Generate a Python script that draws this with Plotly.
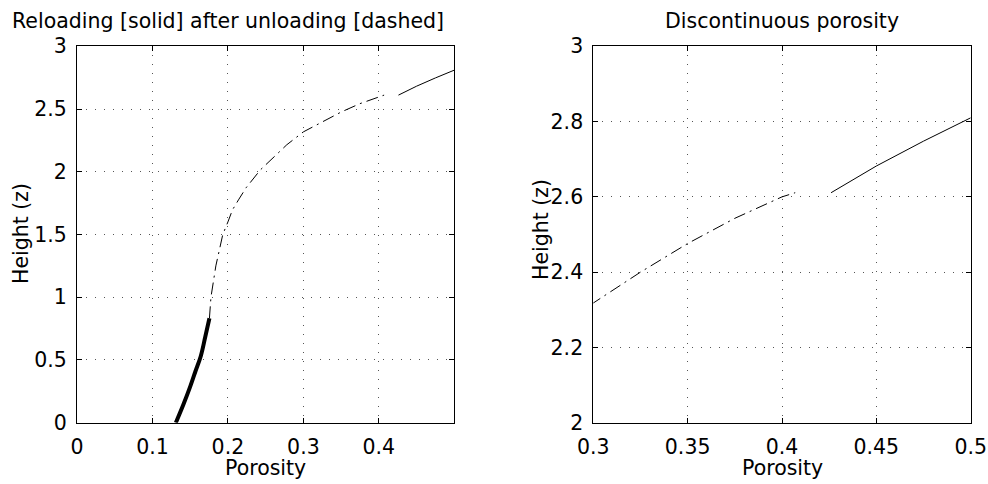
import plotly.graph_objects as go

# Unloading branch (dash-dot), porosity vs height
unload_phi = [0.1755, 0.1775, 0.1840, 0.1932, 0.2000, 0.2060, 0.2140, 0.2240,
              0.2430, 0.2600, 0.2780, 0.3000, 0.3250, 0.3500, 0.3750, 0.4000, 0.4070]
unload_z = [0.832, 1.000, 1.250, 1.500, 1.600, 1.696, 1.776, 1.872,
            2.015, 2.115, 2.215, 2.318, 2.400, 2.476, 2.543, 2.600, 2.611]

# Upper branch above the porosity jump (thin solid)
upper_phi = [0.426, 0.450, 0.475, 0.500]
upper_z = [2.611, 2.682, 2.748, 2.810]

# Reloading branch (thick solid)
reload_phi = [0.131, 0.141, 0.150, 0.157, 0.164, 0.170, 0.1755]
reload_z = [0.000, 0.145, 0.287, 0.410, 0.530, 0.685, 0.832]

# Axis ticks
left_xticks = [0, 0.1, 0.2, 0.3, 0.4]
left_yticks = [0, 0.5, 1, 1.5, 2, 2.5, 3]
right_xticks = [0.3, 0.35, 0.4, 0.45, 0.5]
right_yticks = [2, 2.2, 2.4, 2.6, 2.8, 3]

titles = ["Reloading [solid] after unloading [dashed]", "Discontinuous porosity"]
xlabel = "Porosity"
ylabel = "Height (z)"

W, H = 988, 484
FONT = "DejaVu Sans"
FS = 20.5

fig = go.Figure()

for xa, ya in [("x", "y"), ("x2", "y2")]:
    fig.add_trace(go.Scatter(x=unload_phi, y=unload_z, mode="lines", xaxis=xa, yaxis=ya,
                             line=dict(color="black", width=1, dash="12px,5px,2px,5px"),
                             showlegend=False, hoverinfo="skip"))
    fig.add_trace(go.Scatter(x=upper_phi, y=upper_z, mode="lines", xaxis=xa, yaxis=ya,
                             line=dict(color="black", width=1),
                             showlegend=False, hoverinfo="skip"))
    fig.add_trace(go.Scatter(x=reload_phi, y=reload_z, mode="lines", xaxis=xa, yaxis=ya,
                             line=dict(color="black", width=4, shape="spline"),
                             showlegend=False, hoverinfo="skip"))

ydom = [1 - 422.7 / H, 1 - 46.3 / H]

common = dict(
    showline=True, linecolor="black", linewidth=1, mirror="ticks",
    ticks="inside", ticklen=5, tickcolor="black", tickwidth=1,
    showgrid=True, gridcolor="#555555", gridwidth=1, griddash="1px,8px",
    zeroline=False, automargin=False,
    tickfont=dict(family=FONT, size=FS, color="black"),
)

fig.update_layout(
    width=W, height=H,
    margin=dict(l=0, r=0, t=0, b=0, autoexpand=False),
    paper_bgcolor="white", plot_bgcolor="white",
    showlegend=False,
    xaxis=dict(domain=[77 / W, 454.3 / W], range=[0, 0.5], tickvals=left_xticks,
               ticktext=["0", "0.1", "0.2", "0.3", "0.4"], anchor="y",
               ticklabelstandoff=6, **common),
    yaxis=dict(domain=ydom, range=[0, 3], tickvals=left_yticks,
               ticktext=["0", "0.5", "1", "1.5", "2", "2.5", "3"], anchor="x",
               ticklabelstandoff=5, **common),
    xaxis2=dict(domain=[593.3 / W, 970.7 / W], range=[0.3, 0.5], tickvals=right_xticks,
                ticktext=["0.3", "0.35", "0.4", "0.45", "0.5"], anchor="y2",
                ticklabelstandoff=6, **common),
    yaxis2=dict(domain=ydom, range=[2, 3], tickvals=right_yticks,
                ticktext=["2", "2.2", "2.4", "2.6", "2.8", "3"], anchor="x2",
                ticklabelstandoff=5, **common),
)

txt = dict(family=FONT, size=FS, color="black")
annotations = [
    dict(text=titles[0], x=227.5 / W, y=1 - 21 / H),
    dict(text=titles[1], x=782 / W, y=1 - 21 / H),
    dict(text=xlabel, x=265.5 / W, y=1 - 468 / H),
    dict(text=xlabel, x=782 / W, y=1 - 468 / H),
    dict(text=ylabel, x=21 / W, y=1 - 234 / H, textangle=-90),
    dict(text=ylabel, x=541 / W, y=1 - 230 / H, textangle=-90),
]
for a in annotations:
    fig.add_annotation(xref="paper", yref="paper", xanchor="center", yanchor="middle",
                       showarrow=False, font=txt, **a)

fig.write_html("out.html")
